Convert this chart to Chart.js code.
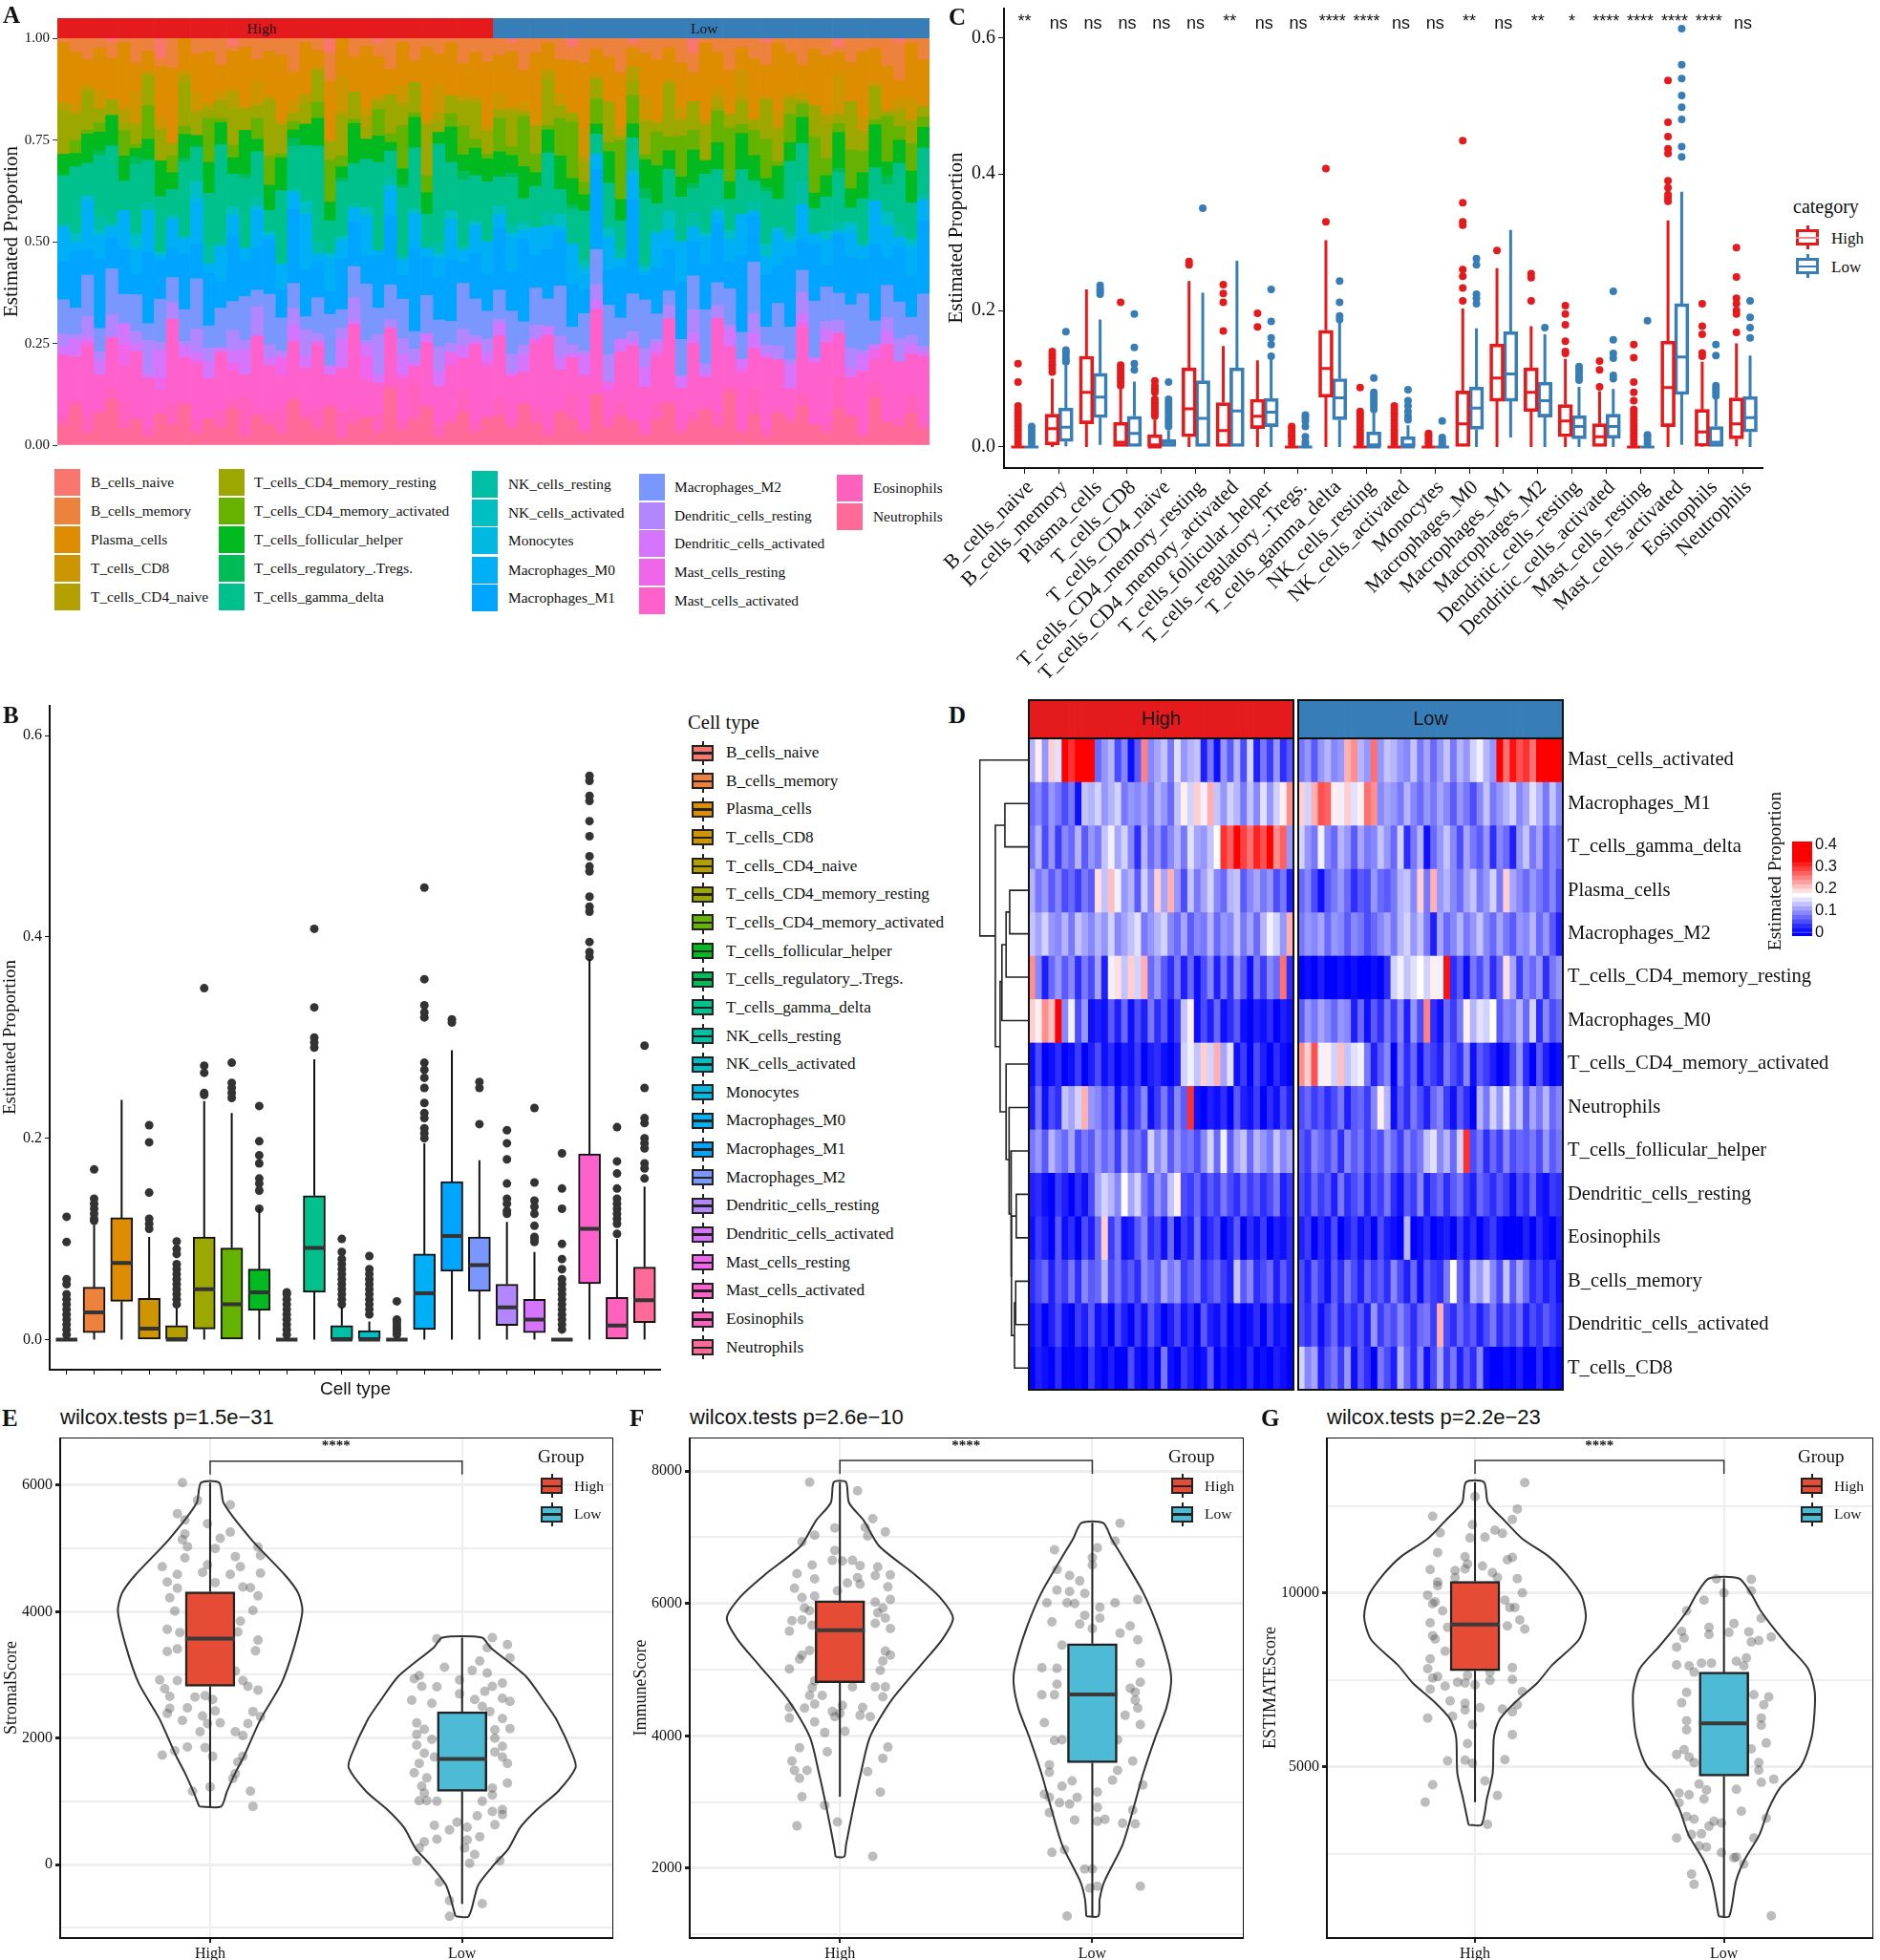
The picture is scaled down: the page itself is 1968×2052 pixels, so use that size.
<!DOCTYPE html>
<html>
<head>
<meta charset="utf-8">
<title>Immune infiltration panels</title>
<script src="https://cdn.jsdelivr.net/npm/chart.js@4"></script>
<style>
html, body { margin: 0; background: #fff; }
#page { position: relative; width: 1968px; height: 2052px; overflow: hidden; background: #fff; }
#page canvas { position: absolute; }
#page span { position: absolute; white-space: nowrap; color: #111; line-height: 1; }
#page div { position: absolute; box-sizing: border-box; }
</style>
</head>
<body>
<div id="page"></div>
<script>
const SERIF = '"Liberation Serif"';
const SANS = '"Liberation Sans"';
const RED = '#E41A1C', BLUE = '#377EB8';
const NPG_RED = '#E64B35', NPG_BLUE = '#4DBBD5';

const categories = ['B_cells_naive','B_cells_memory','Plasma_cells','T_cells_CD8','T_cells_CD4_naive','T_cells_CD4_memory_resting','T_cells_CD4_memory_activated','T_cells_follicular_helper','T_cells_regulatory_.Tregs.','T_cells_gamma_delta','NK_cells_resting','NK_cells_activated','Monocytes','Macrophages_M0','Macrophages_M1','Macrophages_M2','Dendritic_cells_resting','Dendritic_cells_activated','Mast_cells_resting','Mast_cells_activated','Eosinophils','Neutrophils'];
const palette = ['#F8766D','#EC823C','#DE8C00','#CD9600','#B49F00','#9CA700','#66B200','#00BA1F','#00BC56','#00C08B','#00BFA5','#00BFC4','#00B8E0','#00B0F6','#00A5FF','#7997FF','#B186FF','#D575FE','#F066EA','#FF61CC','#FF62BC','#FF6A98'];

// panel A, percent of each sample (every third sample or so)
const bCellsNaive = [0,0,0,0,1,0,0,0,5,0,0,0,0,0,2,0,0,0,0,0,0,0,3,0,0,0,1,0,0,0,0,0,0,0,0,0,0,1,0,0,0,0,2,0,0,0,0,1,0,0,0,0,3,0,0,0,0,0,1,0,0,0,0,0,2,0,0,0,0,1,0,0];
const bCellsMemory = [1,3,5,2,4,1,6,3,2,7,0,4,3,6,1,2,5,3,4,8,1,3,6,0,4,2,3,7,1,5,2,4,1,6,3,5,4,2,7,3,1,5,3,6,2,4,8,1,3,5,2,6,4,1,3,7,2,4,5,1,3,6,2,4,1,5,3,2,6,8,1,4];
const plasmaCells = [14,12,6,9,11,15,7,5,13,18,8,10,12,6,9,14,5,11,16,7,12,4,13,10,8,15,9,6,11,5,17,8,12,7,10,14,9,13,7,15,6,8,12,16,5,10,13,4,9,14,7,11,6,17,8,10,5,12,7,14,9,6,11,13,5,8,15,7,10,4,12,9];
const tCellsCD8 = [0,2,1,4,0,1,8,0,3,0,1,5,0,2,1,0,6,0,1,3,0,1,0,10,0,2,1,0,4,0,1,7,0,2,0,1,4,0,2,1,0,3,0,7,1,0,2,0,5,1,0,3,0,1,2,0,6,0,1,4,0,2,0,1,9,0,3,1,0,2,5,0];
const tCellsCD4Naive = [2,0,1,0,0,3,0,1,0,0,2,0,1,0,4,0,0,1,0,0,2,0,0,1,0,3,0,0,1,0,0,2,0,0,1,0,0,1,0,0,2,0,0,1,0,0,0,3,0,0,1,0,0,0,2,0,1,0,0,0,1,0,0,2,0,0,1,0,0,1,0,0];
const tCellsCD4Resting = [10,6,9,3,4,2,5,7,8,3,11,6,2,4,9,5,3,13,7,2,5,8,4,11,6,3,2,9,5,7,12,3,4,6,8,5,2,8,1,6,10,3,2,5,4,9,1,3,7,2,11,4,6,8,1,3,5,2,9,7,3,1,6,8,2,10,4,7,1,3,5,2];
const tCellsCD4Activated = [0,3,1,2,0,6,1,8,0,4,2,0,10,1,3,0,5,7,1,2,0,4,9,3,1,0,6,2,11,1,4,0,3,7,2,1,8,2,11,4,1,9,13,3,5,2,14,6,1,8,3,10,4,0,7,12,2,5,9,1,6,3,11,4,2,8,5,1,10,3,6,2];
const tCellsFollicular = [5,3,7,4,8,6,2,5,9,4,6,3,7,5,4,10,3,6,8,2,5,7,4,3,9,5,6,2,4,7,5,3,8,4,6,5,6,4,7,3,5,8,6,4,2,7,5,3,6,9,4,5,7,3,6,4,8,5,2,7,4,6,3,5,8,4,6,9,3,5,7,4];
const tCellsRegulatory = [0,0,0,1,0,0,2,0,0,0,1,0,0,0,0,1,0,0,0,2,0,0,0,1,0,0,0,0,1,0,0,0,0,2,0,0,0,1,0,0,0,0,1,0,0,0,0,0,2,0,0,0,1,0,0,0,0,0,1,0,0,0,0,0,1,0,0,0,2,0,0,0];
const tCellsGammaDelta = [11,15,8,13,20,7,17,10,14,6,19,9,12,22,8,16,11,5,18,10,13,24,7,15,9,12,20,6,17,14,8,25,11,16,10,13,7,11,5,9,13,6,8,12,4,10,7,3,14,6,9,11,5,13,8,7,10,4,12,6,15,9,5,8,11,3,10,7,6,13,8,9];
const nkCellsResting = [1,0,0,3,1,0,0,2,0,1,0,0,4,1,0,0,2,0,0,1,0,3,0,0,1,0,0,2,1,0,0,3,0,1,0,0,0,2,1,0,3,0,0,1,0,0,2,4,0,1,0,0,3,0,1,0,0,2,0,0,1,5,0,0,2,0,1,0,0,3,0,1];
const nkCellsActivated = [0,2,0,1,0,0,3,0,1,0,0,4,0,0,2,0,0,1,0,0,3,0,0,1,0,2,0,0,0,1,0,0,2,0,1,0,2,0,1,0,0,3,0,1,0,2,0,0,1,0,4,0,0,1,0,2,0,0,3,0,1,0,0,2,0,1,0,0,3,0,1,0];
const monocytes = [0,0,1,0,0,0,1,0,0,0,0,1,0,0,0,0,1,0,0,0,0,0,1,0,0,0,0,1,0,0,0,1,0,0,0,0,0,1,0,0,0,0,0,1,0,0,0,1,0,0,0,0,0,0,1,0,0,0,0,1,0,0,0,0,0,1,0,0,0,0,1,0];
const macrophagesM0 = [8,2,12,5,3,9,6,10,1,7,4,11,2,8,5,3,9,1,6,4,13,2,7,5,3,10,1,6,4,8,2,5,9,3,6,7,3,8,2,6,5,1,9,4,3,7,2,5,1,8,4,10,3,6,2,5,9,1,4,7,3,8,2,6,1,5,3,9,7,2,6,4];
const macrophagesM1 = [9,13,6,15,8,11,5,17,10,7,14,9,12,6,16,8,10,13,7,18,11,9,5,14,10,7,12,16,6,19,9,11,14,5,10,8,15,9,18,7,11,13,10,6,16,8,12,20,5,11,9,14,7,10,13,6,17,9,12,8,15,7,11,5,13,10,8,16,6,12,9,14];
const macrophagesM2 = [8,6,10,5,12,7,9,4,11,6,8,13,5,9,7,10,4,12,8,6,3,9,11,5,7,14,6,8,10,4,9,7,5,11,8,6,7,10,5,8,6,12,4,9,7,11,5,8,10,6,3,9,7,12,5,8,6,10,4,9,7,5,11,8,6,9,13,5,7,8,4,10];
const dendriticResting = [3,1,5,2,6,0,3,8,2,4,1,6,3,0,5,2,7,3,1,4,6,2,0,3,5,1,9,2,4,3,0,6,2,4,1,3,1,4,2,3,0,5,2,1,3,6,0,2,4,1,3,0,5,2,3,1,0,4,2,3,1,5,0,2,3,4,1,0,3,5,2,1];
const dendriticActivated = [2,4,1,3,0,5,2,1,7,0,3,2,4,1,3,6,0,2,1,4,3,0,2,8,1,3,2,0,5,1,2,4,0,3,1,2,3,1,4,0,2,3,1,5,2,0,3,1,4,2,0,3,2,1,0,4,2,3,1,0,5,2,1,3,0,2,4,1,3,0,2,1];
const mastResting = [0,0,1,0,0,5,0,0,3,0,0,1,0,0,2,0,0,0,4,0,0,1,0,0,0,6,0,0,1,0,0,0,3,0,0,1,0,0,0,1,0,0,0,0,0,2,0,0,0,1,0,0,0,0,0,0,1,0,0,0,0,1,0,0,0,0,0,2,0,0,0,0];
const mastActivated = [14,10,17,8,13,9,16,12,6,20,11,15,9,13,7,5,18,11,8,14,10,16,6,12,19,9,7,13,11,4,15,10,12,8,17,11,15,11,7,14,20,10,8,13,17,6,12,16,9,11,18,10,14,7,21,9,13,8,16,11,6,15,12,19,10,8,14,5,17,12,9,13];
const eosinophils = [2,1,4,0,3,6,1,2,0,5,1,3,0,4,2,9,1,3,6,0,2,5,1,7,3,0,4,1,2,8,0,3,1,5,2,0,4,1,0,3,2,0,6,1,0,2,3,0,1,4,0,1,2,0,3,1,0,5,2,0,1,3,0,2,7,0,1,3,0,2,4,1];
const neutrophils = [5,9,3,7,12,4,6,2,8,5,10,3,6,4,9,2,7,5,3,11,6,4,8,2,5,7,3,13,4,6,9,2,5,8,3,6,7,4,9,5,2,8,6,3,10,4,7,5,2,6,9,3,5,8,4,12,3,6,2,7,5,9,4,3,8,6,2,10,5,4,7,3];
const stackSeries = [bCellsNaive,bCellsMemory,plasmaCells,tCellsCD8,tCellsCD4Naive,tCellsCD4Resting,tCellsCD4Activated,tCellsFollicular,tCellsRegulatory,tCellsGammaDelta,nkCellsResting,nkCellsActivated,monocytes,macrophagesM0,macrophagesM1,macrophagesM2,dendriticResting,dendriticActivated,mastResting,mastActivated,eosinophils,neutrophils];
const stackTicks = [0,0.25,0.5,0.75,1];
const stackTickLabels = ['0.00','0.25','0.50','0.75','1.00'];
const highColumns = 36, lowColumns = 36;

// panel B
const boxQ1 = [0,.007,.038,0,0,.0105,0,.029,0,.047,0,0,0,.01,.068,.048,.014,.007,0,.0555,0,.017];
const boxMedian = [0,.027,.076,.011,0,.05,.035,.047,0,.091,0,0,0,.046,.103,.074,.032,.02,0,.11,.014,.039];
const boxQ3 = [0,.052,.121,.041,.014,.102,.091,.07,0,.143,.014,.009,0,.085,.157,.102,.055,.04,0,.1845,.042,.072];
const boxLow = [0,0,0,0,0,0,0,0,0,0,0,0,0,0,0,0,0,0,0,0,0,0];
const boxHigh = [0,.114,.238,.102,.031,.237,.225,.13,.002,.2785,.032,.018,.001,.195,.2875,.178,.117,.087,.001,.378,.1,.152];
const boxOutliers = [
  [.122,.097,.06,.055,.045,.04,.035,.03,.025,.02,.015,.01,.005],
  [.169,.14,.135,.13,.125,.12,.118],
  [],
  [.213,.196,.146,.12,.115,.11],
  [.0975,.09,.085,.075,.07,.065,.06,.055,.05,.045,.04,.035],
  [.349,.272,.265,.245,.243],
  [.275,.255,.25,.245,.24],
  [.232,.197,.183,.175,.16,.155,.148,.13],
  [.047,.045,.04,.035,.03,.025,.02,.015,.01,.005],
  [.408,.33,.3,.295,.29],
  [.1,.087,.08,.075,.07,.065,.06,.055,.05,.045,.04,.035],
  [.083,.07,.065,.06,.055,.05,.045,.04,.035,.03,.025],
  [.038,.02,.018,.015,.012,.01,.008,.005],
  [.449,.358,.332,.325,.32,.275,.268,.26,.25,.235,.225,.22,.21,.205,.2],
  [.318,.315],
  [.256,.25,.214],
  [.208,.195,.179,.155,.14,.135,.128,.125],
  [.23,.156,.138,.132,.125,.113,.102,.1,.097],
  [.185,.15,.13,.095,.08,.07,.06,.055,.05,.045,.04,.035,.03,.025,.02,.015,.01],
  [.56,.555,.54,.535,.515,.5,.48,.47,.465,.44,.43,.425,.395,.385,.38],
  [.211,.177,.165,.15,.14,.135,.13,.125,.12,.115,.105],
  [.292,.25,.22,.215,.2,.195,.19,.175,.17,.16]
];
const proportionTicks = [0,.2,.4,.6];
const proportionLabels = ['0.0','0.2','0.4','0.6'];

// panel C
const highQ1 = [0,.003,.034,0,0,.015,0,.027,0,.073,0,0,0,0,.067,.052,.015,0,0,.03,.001,.012];
const highMedian = [0,.027,.08,.007,0,.056,.024,.045,0,.115,0,0,0,.034,.101,.08,.038,.015,0,.087,.022,.034];
const highQ3 = [0,.048,.133,.036,.018,.116,.065,.07,0,.171,0,0,0,.082,.151,.116,.062,.034,0,.155,.055,.072];
const highLow = [0,0,0,0,0,0,0,0,0,0,0,0,0,0,0,0,0,0,0,0,0,.001];
const highUp = [0,.1,.231,.085,.04,.243,.148,.127,0,.303,0,0,0,.203,.262,.177,.129,.082,0,.332,.125,.152];
const highOutliers = [
  [.122,.095,.06,.055,.05,.045,.04,.035,.03,.025,.02,.015,.01,.005],[.14,.135,.13,.125,.12,.115,.11],[],
  [.212,.12,.115,.11,.105,.1,.095,.09],[.097,.09,.085,.08,.07,.065,.06,.055,.05,.045],[.272,.267],[.238,.225,.212,.17],[.196,.176],
  [.03,.027,.022,.018,.015,.01,.005],[.408,.33],[.087,.052,.048,.044,.04,.035,.03,.025,.02,.015,.01,.005],
  [.06,.055,.05,.045,.04,.035,.03,.025,.02,.015,.01,.005],[.02,.017,.014,.01,.007,.004],[.449,.358,.33,.325,.26,.25,.233,.214],[.288],[.254,.248,.214],
  [.207,.195,.179,.155,.14,.137],[.126,.113,.088],[.15,.131,.095,.08,.068,.055,.05,.045,.04,.035,.03,.025,.02,.015,.01,.005],
  [.537,.476,.455,.437,.43,.39,.38,.37,.365,.36],[.21,.177,.165,.138,.133],[.292,.249,.218,.21,.2,.195,.168]
];
const lowQ1 = [0,.008,.043,0,0,0,0,.03,0,.04,0,0,0,.026,.067,.044,.012,.013,0,.077,0,.022];
const lowMedian = [0,.029,.073,.02,.007,.042,.053,.051,0,.072,0,0,0,.057,.107,.068,.03,.03,0,.132,.007,.043];
const lowQ3 = [0,.057,.108,.045,.011,.097,.116,.071,0,.1,.022,.015,0,.088,.169,.095,.046,.048,0,.21,.03,.074];
const lowLow = [0,.001,.003,0,0,0,0,0,0,0,0,0,0,0,.014,0,0,0,0,.003,0,0];
const lowUp = [0,.12,.187,.096,.025,.226,.273,.13,0,.185,.05,.032,.002,.174,.318,.165,.088,.085,0,.374,.07,.134];
const lowOutliers = [
  [.03,.025,.02,.015,.01,.005],[.169,.142,.138,.133,.128,.125],[.237,.232,.228,.224],[.195,.146,.122,.113],
  [.095,.07,.065,.06,.055,.05,.045,.04,.035,.03],[.35],[],[.231,.184,.16,.15,.133],[.047,.043,.038,.03,.015,.008,.004],[.243,.212,.192,.187],
  [.101,.08,.075,.07,.065,.06,.055],[.084,.068,.06,.052,.045,.04],[.038,.014,.01,.007,.004],[.276,.267,.224,.218,.21],[],[.175],
  [.118,.113,.108,.103,.098],[.228,.157,.137,.13,.105,.1],[.185,.018,.015,.01,.005],[.613,.56,.54,.515,.498,.48,.44,.425],[.15,.134,.09,.085,.08,.075],[.214,.19,.175,.16]
];
const significance = ['**','ns','ns','ns','ns','ns','**','ns','ns','****','****','ns','ns','**','ns','**','*','****','****','****','****','ns'];

// panel D, cell values in hundredths
const heatRows = ['Mast_cells_activated','Macrophages_M1','T_cells_gamma_delta','Plasma_cells','Macrophages_M2','T_cells_CD4_memory_resting','Macrophages_M0','T_cells_CD4_memory_activated','Neutrophils','T_cells_follicular_helper','Dendritic_cells_resting','Eosinophils','B_cells_memory','Dendritic_cells_activated','T_cells_CD8'];
const heatHigh = [
  [12,18,10,20,15,38,30,40,40,45,7,10,12,5,9,1,6,25,9,11,13,8,15,10,12,13,2,8,1,10,6,12,5,14,2,8,4,10,3,6],
  [7,9,6,10,8,5,8,1,13,12,14,10,12,14,8,10,9,11,8,12,10,7,13,18,14,20,16,22,13,10,14,12,8,13,9,15,10,14,18,24],
  [8,12,5,10,4,9,7,12,6,10,8,13,16,11,14,9,3,12,7,10,6,9,12,8,15,11,10,13,17,30,27,33,29,26,31,28,35,24,27,10],
  [12,8,10,6,9,5,7,4,8,6,19,13,21,16,10,12,6,14,9,20,11,22,10,5,13,8,11,14,9,7,12,13,6,9,11,8,10,5,8,2],
  [13,11,14,10,9,12,8,13,11,9,12,10,14,9,11,13,15,8,10,12,14,9,7,11,6,9,8,12,7,10,9,13,8,11,7,12,16,14,10,22],
  [24,9,2,7,10,6,9,3,8,5,11,2,16,19,13,20,14,22,7,10,6,3,8,2,7,1,5,9,2,8,3,10,6,1,8,4,9,7,26,3],
  [20,18,24,21,38,9,16,5,10,1,2,1,6,2,7,1,5,2,8,3,6,1,4,13,18,1,5,2,7,1,3,6,1,0,2,1,3,0,2,1],
  [1,5,0,1,3,0,1,4,0,2,5,1,3,0,2,1,4,0,2,3,1,0,2,14,16,13,20,14,22,11,15,1,4,0,5,2,0,3,1,0],
  [2,8,1,5,3,13,11,14,22,10,9,6,8,1,7,2,5,9,1,4,8,3,9,6,30,1,0,2,1,3,0,6,2,1,4,0,3,1,5,2],
  [8,10,6,12,9,7,11,5,8,6,10,7,9,4,11,6,8,5,14,9,12,6,10,7,8,5,9,14,7,16,6,11,13,7,12,10,8,13,9,11],
  [2,3,1,0,4,2,0,3,1,5,11,14,12,9,17,11,14,8,5,10,7,13,18,5,4,7,3,6,4,8,5,3,7,4,6,3,5,8,2,4],
  [1,4,2,0,6,1,3,0,5,2,7,20,4,8,1,2,6,9,3,5,1,7,0,4,2,8,1,3,5,0,2,6,0,3,1,4,0,2,1,3],
  [3,5,7,2,6,4,8,3,9,6,7,12,5,8,4,6,3,9,7,5,11,8,10,4,6,8,3,5,7,4,2,13,6,9,3,5,7,2,6,3],
  [1,3,0,2,5,1,0,4,2,6,1,3,0,5,2,0,4,1,6,3,0,2,5,1,3,0,6,2,1,4,0,2,0,1,3,0,4,1,2,0],
  [0,2,1,0,3,0,0,1,0,4,1,0,2,0,0,5,1,0,3,0,8,1,0,4,2,0,1,6,0,2,0,1,0,3,0,1,0,2,1,0]
];
const heatLow = [
  [8,10,6,10,12,9,10,22,24,12,10,26,10,13,12,10,9,13,8,11,7,10,13,8,12,10,14,16,12,10,40,26,32,28,30,26,40,42,45,40],
  [20,14,22,28,27,18,16,20,15,18,26,24,9,11,10,8,12,9,7,10,8,11,9,6,10,8,5,9,13,8,10,12,14,9,11,15,12,8,13,9],
  [14,10,8,16,9,7,12,10,6,11,8,9,13,10,7,14,3,8,12,1,7,10,13,9,5,11,8,6,10,3,9,7,2,10,13,8,11,6,9,7],
  [7,9,5,1,6,8,10,7,3,6,5,10,7,6,8,12,13,9,20,8,22,10,12,9,7,11,13,8,10,14,8,20,11,9,7,10,8,6,9,5],
  [8,10,9,11,7,10,9,6,9,8,5,7,9,11,8,12,14,10,13,8,2,11,7,9,12,8,10,13,9,7,11,8,6,10,9,12,7,10,6,2],
  [0,1,0,2,0,0,1,0,1,0,0,1,0,3,14,16,13,15,17,14,18,16,32,3,6,1,8,5,9,3,7,19,11,4,9,7,10,3,8,10],
  [6,10,8,11,9,7,10,9,2,7,1,6,3,8,4,9,2,10,5,25,3,1,7,4,8,18,12,15,14,17,6,9,8,12,7,14,3,9,5,7],
  [24,20,28,16,18,14,21,13,15,16,8,2,6,9,0,8,3,7,1,6,4,2,8,5,3,9,1,6,4,2,0,1,5,10,3,0,6,2,0,1],
  [5,7,4,6,3,5,8,2,6,7,4,9,18,12,1,6,3,8,5,2,7,9,4,1,6,3,0,12,8,14,10,16,9,13,6,11,8,12,7,9],
  [6,4,9,7,5,8,3,9,6,8,4,7,5,10,7,4,9,6,8,13,15,9,12,7,14,30,5,8,3,7,4,9,5,7,6,8,5,10,6,8],
  [5,3,7,4,6,2,8,3,5,7,2,6,4,8,3,1,6,4,9,2,5,7,3,6,8,4,2,7,5,3,6,4,1,5,3,7,2,1,4,3],
  [2,4,0,3,1,5,0,2,4,1,3,0,5,2,1,0,12,0,1,3,0,1,2,0,4,1,3,0,2,4,1,0,0,0,2,0,3,1,0,2],
  [5,2,7,4,1,6,3,8,5,2,7,4,6,3,9,5,2,7,1,6,4,3,8,17,7,3,12,10,14,9,5,13,6,11,7,3,5,2,4,1],
  [5,3,6,1,4,7,2,5,3,6,2,10,4,7,5,9,6,3,7,8,4,22,5,3,7,4,6,2,5,8,3,6,4,7,2,5,3,6,4,2],
  [14,9,11,2,6,8,4,10,1,6,3,0,8,5,2,12,7,3,9,1,5,11,4,8,2,6,3,9,1,0,0,1,0,2,0,0,3,0,1,0]
];
const colorbarSteps = [0,2,4,6,8,10,12,14,16,18,20,22,24,26,28,30,32,34,36,38,40];
const colorbarTicks = [0,.1,.2,.3,.4];
const colorbarLabels = ['0','0.1','0.2','0.3','0.4'];
// dendrogram merges: height, then each branch's row and its own height
const dendroHeight = [40,32,38,45,21,22,24,29,30,33,38,48,56,82];
const dendroRowA = [1.5,3.5,4,4.75,10.5,12.5,13,11,9.5,8.5,7.5,5.6,2,.5];
const dendroFromA = [0,0,32,38,0,0,22,21,0,0,0,45,40,0];
const dendroRowB = [2.5,4.5,5.5,6.5,11.5,13.5,14.5,13.75,12.4,10.95,9.7,8.6,7.1,4.55];
const dendroFromB = [0,0,0,0,0,0,0,24,29,30,33,38,48,56];

// panels E, F, G
const stromalHighViolinY = [917,1157,1450,1727,2296,2866,3436,4006,4290,4575,5145,5715,6040];
const stromalHighViolinW = [.043,.067,.1,.136,.2,.283,.333,.366,.35,.298,.163,.054,.036];
const stromalLowViolinY = [-820,-325,17,245,587,872,1157,1527,1727,2296,2581,2980,3436,3590];
const stromalLowViolinW = [.026,.064,.131,.183,.231,.298,.381,.45,.44,.374,.326,.252,.112,.079];
const stromalBoxQ1 = [2820,1157], stromalBoxMedian = [3573,1670], stromalBoxQ3 = [4313,2416], stromalWhiskerLow = [917,-621], stromalWhiskerHigh = [6040,3590];
const stromalHighJitter = [-.11,-.05,.08,-.13,-.1,-.01,.08,-.1,.04,-.11,-.09,.19,.02,.2,.1,-.1,-.01,-.19,.12,-.13,-.03,.2,.08,-.17,.02,.13,.16,-.13,-.16,.19,-.14,.17,.12,-.17,-.12,.11,.19,.18,-.17,-.13,.1,-.2,-.13,.13,.15,-.18,.19,-.16,-.02,.01,-.06,-.09,-.16,.02,.17,-.17,-.03,.2,-.11,-.01,.04,.15,-.04,.1,.13,-.09,-.02,-.14,-.19,.01,.13,.11,.1,.09,0,-.07,.16,.17];
const stromalHighScore = [6040,5760,5690,5550,5450,5390,5260,5230,5160,5140,5030,5020,5000,4890,4870,4850,4740,4710,4710,4590,4620,4610,4590,4470,4460,4390,4380,4370,4220,4250,4010,4020,3850,3720,3670,3680,3550,3380,3370,3410,3060,2920,2910,2910,2820,2780,2760,2660,2670,2610,2650,2480,2470,2430,2420,2390,2350,2340,2280,2230,2240,2230,2100,2100,2040,1860,1850,1800,1730,1710,1710,1620,1440,1360,1230,1160,1160,920];
const stromalLowJitter = [.12,.18,-.1,.1,.19,.07,-.07,-.17,-.19,.04,.1,-.01,.16,.12,-.16,-.1,.09,-.01,-.2,.05,.16,.19,-.12,.08,.11,.16,-.18,.19,-.15,.13,-.18,-.12,.13,.16,-.18,-.15,.13,-.11,.16,-.17,.18,-.19,-.14,-.16,.18,.12,-.15,.12,-.17,-.14,-.1,.08,.16,.12,.16,.06,.13,-.11,-.02,.02,-.05,-.1,-.15,.07,.02,-.17,.01,.05,-.18,.15,.03,-.09,-.05,.08,-.05];
const stromalLowScore = [3590,3480,3570,3430,3270,3220,3120,2990,2940,3070,3030,2920,2870,2820,2820,2810,2740,2700,2600,2610,2630,2580,2550,2500,2420,2310,2240,2150,2140,2130,2060,1980,2000,1870,1890,1760,1780,1700,1700,1600,1600,1450,1370,1240,1290,1210,1130,1100,1010,1010,1000,1000,870,840,790,770,630,620,670,590,550,400,360,440,390,260,260,160,60,60,20,-280,-570,-620,-820];

const immuneHighViolinY = [2174,2348,2893,3438,3982,4526,5071,5452,5779,6105,6432,6868,7249,7521,7832];
const immuneHighViolinW = [.017,.024,.052,.083,.119,.202,.321,.405,.448,.393,.298,.155,.095,.036,.024];
const immuneLowViolinY = [1276,1532,1804,2348,2893,3438,3982,4418,4799,5071,5615,6160,6705,6977,7216];
const immuneLowViolinW = [.024,.029,.048,.119,.162,.202,.25,.293,.312,.305,.262,.202,.119,.076,.043];
const immuneBoxQ1 = [4804,3595], immuneBoxMedian = [5594,4624], immuneBoxQ3 = [6040,5392], immuneWhiskerLow = [3083,1276], immuneWhiskerHigh = [7832,7216];
const immuneHighJitter = [-.12,.07,.13,-.02,.1,.18,-.1,.11,-.15,-.02,-.03,.01,.05,-.11,.08,.15,-.17,.2,.14,.07,-.1,.03,.08,.19,-.18,-.01,-.1,-.15,.2,.14,-.14,.17,-.12,.15,-.15,.18,-.19,.14,-.11,.2,-.2,-.12,-.15,.18,.2,-.16,.17,-.2,.16,-.1,.18,-.11,.14,.05,-.12,-.07,.17,-.1,.01,-.14,.09,-.2,-.03,0,.08,-.02,.12,-.2,-.1,.02,-.06,-.16,.19,-.05,.17,-.19,-.18,-.13,.11,-.16,.16,-.15,-.06,-.01,-.17,.13];
const immuneHighScore = [7830,7700,7280,7140,7150,7080,7030,7020,6930,6800,6650,6640,6650,6580,6570,6550,6450,6430,6420,6390,6370,6310,6290,6250,6230,6190,6110,6090,6060,6020,5930,5930,5890,5860,5750,5780,5740,5700,5670,5620,5580,5290,5220,5280,5220,5160,5130,5010,4990,4830,4740,4730,4740,4740,4610,4610,4590,4480,4460,4420,4430,4430,4370,4340,4310,4290,4290,4270,4210,4070,4050,3820,3830,3760,3660,3620,3480,3480,3460,3360,3150,3080,2950,2700,2640,2180];
const immuneLowJitter = [.11,.09,-.15,.02,0,-.14,0,-.09,-.05,-.14,-.09,-.03,.18,-.18,-.1,-.07,.09,.03,-.03,.03,-.16,-.05,.15,0,.11,.18,-.12,.19,-.2,-.14,.19,-.14,.15,.17,-.2,-.15,.17,.18,.13,-.19,.19,-.15,-.12,.1,.16,-.17,.1,-.17,.08,-.08,-.12,.2,.02,-.19,-.06,-.17,-.13,-.09,.02,-.17,.16,-.07,.02,.05,.12,.17,-.11,-.16,-.03,0,.02,.19,-.01,-.1];
const immuneLowScore = [7210,6940,6810,6840,6690,6510,6580,6420,6340,6200,6180,6150,6060,6010,6010,6000,6010,5940,5820,5780,5720,5690,5660,5620,5550,5450,5370,5100,5030,5020,4810,4780,4720,4660,4620,4620,4540,4420,4310,4200,4170,3930,3940,3940,3620,3560,3480,3450,3330,3320,3240,3260,3150,3120,3070,3070,2990,2970,2920,2840,2880,2730,2710,2740,2680,2670,2280,2240,1990,1990,1730,1730,1700,1280];

const estimateHighViolinY = [3330,4087,4813,5851,6369,6888,7407,7925,8651,9274,9896,10519,11037,11556,12074,12593,13184];
const estimateHighViolinW = [.026,.048,.071,.076,.1,.167,.25,.31,.417,.445,.429,.369,.298,.19,.119,.052,.036];
const estimateLowViolinY = [695,1701,2324,3050,3776,4398,5021,5851,6577,7199,7822,8444,8962,9481,9999,10415];
const estimateLowViolinW = [.021,.048,.083,.143,.179,.226,.31,.352,.364,.364,.338,.262,.202,.148,.107,.06];
const estimateBoxQ1 = [7759,4730], estimateBoxMedian = [9087,6245], estimateBoxQ3 = [10332,7718], estimateWhiskerLow = [3983,695], estimateWhiskerHigh = [13184,10415];
const estimateHighJitter = [.2,0,.17,-.17,.15,-.01,-.14,.08,.11,-.02,.04,-.15,-.04,.15,.13,-.03,.03,-.18,-.04,-.08,.07,-.08,.17,.09,-.15,-.15,.19,-.19,-.16,.12,-.17,.14,-.13,.16,.18,-.18,.13,.2,-.11,-.17,-.16,-.12,-.18,-.19,.15,-.03,.06,-.15,-.17,-.07,-.04,.06,.15,-.12,0,-.18,.19,-.1,-.04,.02,.17,-.04,.11,-.09,-.19,.15,-.01,.15,-.03,-.11,-.04,.12,-.01,.04,-.17,.09,-.2,.05];
const estimateHighScore = [13170,12770,12410,12200,12110,11960,11730,11800,11710,11580,11600,11160,11040,11020,10950,10830,10770,10670,10690,10640,10580,10440,10410,10440,10310,10210,10000,9930,9740,9790,9690,9580,9480,9580,9220,9140,9050,8960,9010,8770,8670,8320,8100,7820,7850,7630,7720,7590,7550,7430,7410,7480,7510,7320,7350,7230,7160,6890,6820,6700,6780,6630,6660,6450,6400,6580,6210,5920,5660,5170,5190,5200,5100,4590,4480,4170,3980,3340];
const estimateLowJitter = [-.03,.11,.11,0,-.08,-.15,.15,.04,-.06,-.17,.1,.02,-.06,.19,-.16,.14,.11,-.19,.05,.09,-.05,-.19,-.14,-.09,-.12,.08,-.15,.18,.12,-.17,.16,-.15,.15,.15,-.15,.17,.11,-.19,-.16,.14,-.14,-.12,.14,.2,.15,-.1,.05,-.07,-.18,-.14,-.18,-.08,.07,-.15,.17,-.12,-.04,-.01,-.06,-.13,-.09,-.19,.12,-.1,-.07,-.01,.04,.05,.08,-.13,-.12,.19];
const estimateLowScore = [10400,10390,10060,10000,9790,9480,9270,9120,9010,8890,8880,8860,8800,8730,8700,8630,8590,8440,8030,8130,7980,7930,7900,7980,7720,7900,7140,7010,7070,6840,6780,6320,6400,6190,6060,5680,5510,5350,5490,5120,5280,5120,4900,4640,4550,4500,4350,4330,4240,4190,3960,4070,3720,3570,3520,3490,3430,3380,3290,3050,3070,2950,2950,2720,2690,2530,2380,2400,2200,1910,1620,710];

const groupTicks = [1,2];
const groupLabels = ['High','Low'];

Chart.defaults.font.family = SERIF;
Chart.defaults.color = '#111';
Chart.defaults.animation = false;
Chart.defaults.responsive = false;
Chart.defaults.plugins.legend.display = false;
Chart.defaults.plugins.tooltip.enabled = false;

// Text labels drawn at data positions, plus an optional frame round the plot
Chart.register({
  id: 'notes',
  afterDatasetsDraw(chart, args, opts) {
    const { ctx, scales, chartArea } = chart;
    ctx.save();
    (opts.items || []).forEach(n => {
      ctx.font = n.font;
      ctx.fillStyle = '#111';
      ctx.textAlign = 'center';
      ctx.textBaseline = 'middle';
      ctx.fillText(n.text, scales.x.getPixelForValue(n.x), scales.y.getPixelForValue(n.y));
    });
    if (opts.frame) {
      ctx.strokeStyle = '#111';
      ctx.lineWidth = opts.frame;
      ctx.strokeRect(chartArea.left, chartArea.top, chartArea.width, chartArea.height);
      (opts.rules || []).forEach(v => {
        const y = scales.y.getPixelForValue(v);
        ctx.beginPath();
        ctx.moveTo(chartArea.left, y);
        ctx.lineTo(chartArea.right, y);
        ctx.stroke();
      });
    }
    ctx.restore();
  }
});

const page = document.getElementById('page');

function addText(str, x, y, o = {}) {
  const el = document.createElement('span');
  el.textContent = str;
  el.style.left = x + 'px';
  el.style.top = y + 'px';
  el.style.fontFamily = o.family || SERIF;
  el.style.fontSize = (o.size || 16) + 'px';
  if (o.bold) el.style.fontWeight = 'bold';
  el.style.transform = o.rot ? 'translate(-50%,-50%) rotate(' + o.rot + 'deg)' : 'translateY(-50%)';
  page.appendChild(el);
}

function addBlock(x, y, w, h, color, border) {
  const el = document.createElement('div');
  el.style.cssText = 'left:' + x + 'px;top:' + y + 'px;width:' + w + 'px;height:' + h + 'px;background:' + color + ';' + (border || '');
  page.appendChild(el);
}

function addKey(x, y, w, h, fill, stroke, lw, medianColor) {
  addBlock(x + w / 2 - lw / 2, y - h / 2 - 4, lw, h + 8, stroke);
  addBlock(x, y - h / 2, w, h, fill, 'border:' + lw + 'px solid ' + stroke + ';');
  addBlock(x, y - 1, w, 2.5, medianColor);
}

// plot = pixel box of the plot area on the page, m = margins kept for the axes
function addChart(plot, m, config) {
  const c = document.createElement('canvas');
  const w = plot.r - plot.l + m.l + m.r, h = plot.b - plot.t + m.t + m.b;
  c.width = w;
  c.height = h;
  c.style.left = (plot.l - m.l) + 'px';
  c.style.top = (plot.t - m.t) + 'px';
  page.appendChild(c);
  const sc = config.options.scales;
  const yRight = sc.y.position === 'right';
  const noPadding = s => { s.paddingTop = 0; s.paddingBottom = 0; s.paddingLeft = 0; s.paddingRight = 0; };
  if (sc.y.display !== false) sc.y.afterFit = s => { s.width = yRight ? m.r : m.l; noPadding(s); };
  if (sc.x.display !== false) sc.x.afterFit = s => { s.height = m.b; noPadding(s); };
  config.options.layout = {
    autoPadding: false,
    padding: {
      top: m.t,
      left: (sc.y.display === false || yRight) ? m.l : 0,
      right: (sc.y.display !== false && yRight) ? 0 : m.r,
      bottom: sc.x.display === false ? m.b : 0
    }
  };
  return new Chart(c, config);
}

const useTicks = values => s => { s.ticks = values.map(v => ({ value: v })); };

function whiskerPoints(xs, q1, q3, lo, hi) {
  const out = [];
  xs.forEach((x, i) => {
    out.push({ x, y: lo[i] }, { x, y: q1[i] }, { x, y: null }, { x, y: q3[i] }, { x, y: hi[i] }, { x, y: null });
  });
  return out;
}
function medianPoints(xs, med, half) {
  const out = [];
  xs.forEach((x, i) => { out.push({ x: x - half, y: med[i] }, { x: x + half, y: med[i] }, { x, y: null }); });
  return out;
}
function outlierPoints(xs, lists) {
  const out = [];
  xs.forEach((x, i) => lists[i].forEach(y => out.push({ x, y })));
  return out;
}
function violinPoints(center, ys, ws) {
  const left = ys.map((y, i) => ({ x: center - ws[i], y }));
  const right = ys.map((y, i) => ({ x: center + ws[i], y })).reverse();
  return [...left, ...right, left[0]];
}
const lineSet = (data, color, width, order, extra) => Object.assign({ type: 'scatter', showLine: true, data, borderColor: color, borderWidth: width, pointRadius: 0, order }, extra);
const dotSet = (data, color, radius, order) => ({ type: 'scatter', data, backgroundColor: color, borderWidth: 0, pointRadius: radius, order });
const boxSet = (xs, q1, q3, fill, stroke, lw, thick, order) => ({
  type: 'bar', grouped: false, barThickness: thick, data: xs.map((x, i) => ({ x, y: [q1[i], q3[i]] })),
  backgroundColor: fill, borderColor: stroke, borderWidth: lw, borderSkipped: false, order
});

// ---- Panel A
const stackLabels = stackSeries[0].map((v, i) => 'S' + (i + 1));
const stackTotals = stackLabels.map((s, i) => stackSeries.reduce((sum, series) => sum + series[i], 0));
const stackSets = stackSeries.map((series, k) => ({
  label: categories[k], data: series.map((v, i) => v / stackTotals[i]), backgroundColor: palette[k], order: 1
})).reverse();
stackSets.push({
  label: 'Group', data: stackLabels.map(() => 0.0505),
  backgroundColor: stackLabels.map((s, i) => i < highColumns ? RED : BLUE), order: 1
});
addChart({ l: 60, r: 973, t: 19, b: 466.5 }, { l: 60, t: 0, r: 0, b: 12 }, {
  type: 'bar',
  data: { labels: stackLabels, datasets: stackSets },
  options: {
    datasets: { bar: { barPercentage: 1, categoryPercentage: 1, borderWidth: 0 } },
    scales: {
      x: { display: false, stacked: true },
      y: {
        stacked: true, min: 0, max: 1.0505, afterBuildTicks: useTicks(stackTicks),
        ticks: { font: { size: 15 }, color: '#111', padding: 3, autoSkip: false, callback: v => stackTickLabels[stackTicks.indexOf(v)] },
        grid: { drawOnChartArea: false, tickLength: 5, tickColor: '#333' }, border: { display: false },
        title: { display: true, text: 'Estimated Proportion', font: { size: 21 }, padding: 0 }
      }
    },
    plugins: { notes: { items: [
      { text: 'High', x: 16.4, y: 1.022, font: '15.5px ' + SERIF },
      { text: 'Low', x: 52.9, y: 1.022, font: '15.5px ' + SERIF }
    ] } }
  }
});
const legendA = [
  { swatch: 57, text: 95, rows: [505,535,565,595,625], from: 0 },
  { swatch: 228.5, text: 266, rows: [505,535,565,595,625], from: 5 },
  { swatch: 494, text: 532, rows: [507,537,566,597,626], from: 10 },
  { swatch: 668.5, text: 706, rows: [510,540,569,599,629], from: 15 },
  { swatch: 876, text: 914, rows: [511,541], from: 20 }
];
legendA.forEach(col => col.rows.forEach((y, i) => {
  addBlock(col.swatch, y - 14, 27, 28, palette[col.from + i]);
  addText(categories[col.from + i], col.text, y, { size: 15.4 });
}));

// ---- Panel B
const slots = categories.map((c, i) => i + 1);
addChart({ l: 52, r: 692, t: 738, b: 1434 }, { l: 52, t: 0, r: 0, b: 32 }, {
  type: 'scatter',
  data: { datasets: [
    lineSet(medianPoints(slots, boxMedian, .39), '#333', 4, 1),
    boxSet(slots, boxQ1, boxQ3, palette, '#111', 2, 23, 2),
    lineSet(whiskerPoints(slots, boxQ1, boxQ3, boxLow, boxHigh), '#111', 2, 3),
    dotSet(outlierPoints(slots, boxOutliers), '#333', 4.5, 4)
  ] },
  options: {
    scales: {
      x: {
        type: 'linear', offset: false, min: .385, max: 22.6, afterBuildTicks: useTicks(slots),
        ticks: { autoSkip: false, callback: () => '' },
        grid: { offset: false, drawOnChartArea: false, tickLength: 5, tickColor: '#111' }, border: { color: '#111', width: 2 },
        title: { display: true, text: 'Cell type', font: { family: SANS, size: 19 }, padding: 0 }
      },
      y: {
        min: -.0299, max: .6304, afterBuildTicks: useTicks(proportionTicks),
        ticks: { font: { size: 16 }, color: '#111', padding: 3, autoSkip: false, callback: v => proportionLabels[proportionTicks.indexOf(v)] },
        grid: { drawOnChartArea: false, tickLength: 5, tickColor: '#111' }, border: { color: '#111', width: 2 },
        title: { display: true, text: 'Estimated Proportion', font: { size: 19 }, padding: 0 }
      }
    }
  }
});
addText('Cell type', 720, 756, { size: 20.6 });
categories.forEach((c, i) => {
  const y = 788 + 29.65 * i;
  addKey(724, y, 23, 17, palette[i], '#222', 2, '#222');
  addText(c, 760, y, { size: 17.2 });
});

// ---- Panel C
const slotsHigh = slots.map(x => x - .19), slotsLow = slots.map(x => x + .21);
addChart({ l: 1051, r: 1846, t: 8, b: 490 }, { l: 80, t: 0, r: 0, b: 220 }, {
  type: 'scatter',
  data: { datasets: [
    lineSet(medianPoints(slotsHigh, highMedian, .2), RED, 3, 1),
    lineSet(medianPoints(slotsLow, lowMedian, .2), BLUE, 3, 1),
    boxSet(slotsHigh, highQ1, highQ3, 'rgba(255,255,255,0)', RED, 3, 15, 2),
    boxSet(slotsLow, lowQ1, lowQ3, 'rgba(255,255,255,0)', BLUE, 3, 15, 2),
    lineSet(whiskerPoints(slotsHigh, highQ1, highQ3, highLow, highUp), RED, 3, 3),
    lineSet(whiskerPoints(slotsLow, lowQ1, lowQ3, lowLow, lowUp), BLUE, 3, 3),
    dotSet(outlierPoints(slotsHigh, highOutliers), RED, 4, 4),
    dotSet(outlierPoints(slotsLow, lowOutliers), BLUE, 4, 4)
  ] },
  options: {
    scales: {
      x: {
        type: 'linear', offset: false, min: .4, max: 22.6, afterBuildTicks: useTicks(slots),
        ticks: { font: { size: 21.5 }, color: '#111', autoSkip: false, minRotation: 45, maxRotation: 45, padding: 2, labelOffset: 6, callback: v => categories[v - 1] },
        grid: { offset: false, drawOnChartArea: false, tickLength: 6, tickColor: '#111' }, border: { color: '#111', width: 2 }
      },
      y: {
        min: -.0308, max: .6438, afterBuildTicks: useTicks(proportionTicks),
        ticks: { font: { size: 20 }, color: '#111', padding: 3, autoSkip: false, callback: v => proportionLabels[proportionTicks.indexOf(v)] },
        grid: { drawOnChartArea: false, tickLength: 6, tickColor: '#111' }, border: { color: '#111', width: 2 },
        title: { display: true, text: 'Estimated Proportion', font: { size: 21 }, padding: { top: 18, bottom: 0 } }
      }
    },
    plugins: { notes: { items: significance.map((s, i) => ({ text: s, x: i + 1, y: s === 'ns' ? .62 : .623, font: '18px ' + SANS })) } }
  }
});
addText('category', 1877, 216, { size: 20 });
addKey(1880, 248.5, 24, 17, '#fff', RED, 3, '#ee8a8b');
addKey(1880, 278.5, 24, 17, '#fff', BLUE, 3, BLUE);
addText('High', 1917, 249, { size: 17 });
addText('Low', 1917, 279, { size: 17 });

// ---- Panel D
const heatStops = [[0,0,0,255],[17,255,255,255],[33,255,0,0]];
function heatColor(v) {
  const t = Math.min(v, 33);
  const [a, b] = t <= 17 ? [heatStops[0], heatStops[1]] : [heatStops[1], heatStops[2]];
  const f = (t - a[0]) / (b[0] - a[0]);
  return 'rgb(' + [1,2,3].map(k => Math.round(a[k] + (b[k] - a[k]) * f)).join(',') + ')';
}
const heatStrip = -.88;
function heatConfig(rows, stripColor, stripText, axis) {
  const labels = rows[0].map((v, i) => 'C' + i);
  const sets = rows.map((row, r) => ({
    data: row.map(() => [r, r + 1]), backgroundColor: row.map(heatColor)
  }));
  sets.push({ data: rows[0].map(() => [heatStrip, 0]), backgroundColor: stripColor });
  return {
    type: 'bar',
    data: { labels, datasets: sets },
    options: {
      datasets: { bar: { grouped: false, barPercentage: 1, categoryPercentage: 1, borderWidth: 0 } },
      scales: { x: { display: false }, y: axis },
      plugins: { notes: { frame: 2, rules: [0], items: [{ text: stripText, x: 19.5, y: heatStrip / 2, font: '20px ' + SANS }] } }
    }
  };
}
addChart({ l: 1077, r: 1354, t: 733, b: 1455 }, { l: 2, t: 2, r: 2, b: 2 }, heatConfig(heatHigh, RED, 'High', { display: false, reverse: true, min: heatStrip, max: 15 }));
const rowTicks = heatRows.map((r, i) => i + .5);
addChart({ l: 1359, r: 1636, t: 733, b: 1455 }, { l: 2, t: 2, r: 330, b: 2 }, heatConfig(heatLow, BLUE, 'Low', {
  position: 'right', reverse: true, min: heatStrip, max: 15, afterBuildTicks: useTicks(rowTicks),
  ticks: { font: { size: 20.6 }, color: '#111', padding: 5, autoSkip: false, callback: v => heatRows[rowTicks.indexOf(v)] },
  grid: { display: false, drawTicks: false }, border: { display: false }
}));
// dendrogram
const dendroSets = dendroHeight.map((h, i) => lineSet([
  { x: dendroFromA[i], y: dendroRowA[i] }, { x: h, y: dendroRowA[i] }, { x: h, y: dendroRowB[i] }, { x: dendroFromB[i], y: dendroRowB[i] }
], '#222', 1.6, 1));
addChart({ l: 1025, r: 1077, t: 773, b: 1455 }, { l: 2, t: 0, r: 0, b: 0 }, {
  type: 'scatter',
  data: { datasets: dendroSets },
  options: { scales: { x: { display: false, reverse: true, min: 0, max: 83 }, y: { display: false, reverse: true, min: 0, max: 15 } } }
});
// colour bar
addChart({ l: 1876, r: 1897, t: 881, b: 980 }, { l: 0, t: 10, r: 40, b: 10 }, {
  type: 'scatter',
  data: { datasets: [{
    type: 'bar', grouped: false, barThickness: 21,
    data: colorbarSteps.slice(0, -1).map((v, i) => ({ x: 0, y: [v / 100, colorbarSteps[i + 1] / 100] })),
    backgroundColor: colorbarSteps.slice(0, -1).map(v => heatColor(v + 1)), borderWidth: 0
  }, {
    type: 'bar', grouped: false, barThickness: 21, data: [{ x: 0, y: [-.017, 0] }], backgroundColor: '#0000ff', borderWidth: 0
  }, {
    type: 'bar', grouped: false, barThickness: 21, data: [{ x: 0, y: [.4, .413] }], backgroundColor: '#ff0000', borderWidth: 0
  }] },
  options: {
    scales: {
      x: { display: false, type: 'linear', offset: false, min: -1, max: 1 },
      y: {
        position: 'right', min: -.017, max: .413, afterBuildTicks: useTicks(colorbarTicks),
        ticks: { font: { family: SANS, size: 16.5 }, color: '#111', padding: 2, autoSkip: false, callback: v => colorbarLabels[colorbarTicks.indexOf(v)] },
        grid: { drawOnChartArea: false, tickLength: 1, tickColor: '#fff' }, border: { display: false }
      }
    }
  }
});
addText('Estimated Proportion', 1858, 912, { size: 19.5, rot: -90 });

// ---- Panels E, F, G
function violinPanel(p) {
  const half = 26 / (p.plot.r - p.plot.l) * 2.2;
  const high = p.highX.map((x, i) => ({ x: 1 + x, y: p.highY[i] }));
  const low = p.lowX.map((x, i) => ({ x: 2 + x, y: p.lowY[i] }));
  addChart(p.plot, { l: p.left, t: 0, r: 0, b: 23 }, {
    type: 'scatter',
    data: { datasets: [
      lineSet([{ x: 1, y: p.bracketLow }, { x: 1, y: p.bracket }, { x: 2, y: p.bracket }, { x: 2, y: p.bracketLow }], '#333', 1.5, 1),
      lineSet(medianPoints(groupTicks, p.med, half), '#3a3a3a', 4, 2),
      boxSet(groupTicks, p.q1, p.q3, [NPG_RED, NPG_BLUE], '#222', 2.5, 52, 3),
      lineSet(whiskerPoints(groupTicks, p.q1, p.q3, p.lo, p.hi), '#222', 2, 4),
      dotSet(high, 'rgba(70,70,70,.36)', 5, 5),
      dotSet(low, 'rgba(70,70,70,.36)', 5, 5),
      lineSet(violinPoints(1, p.vHighY, p.vHighW), '#333', 2, 6, { tension: .25 }),
      lineSet(violinPoints(2, p.vLowY, p.vLowW), '#333', 2, 6, { tension: .25 })
    ] },
    options: {
      scales: {
        x: {
          type: 'linear', offset: false, min: .405, max: 2.6, afterBuildTicks: useTicks(groupTicks),
          ticks: { font: { size: 16 }, color: '#111', padding: 2, autoSkip: false, callback: v => groupLabels[v - 1] },
          grid: { offset: false, color: '#eeeeee', lineWidth: 2, tickLength: 5, tickColor: '#222' }, border: { display: false }
        },
        y: {
          min: p.min, max: p.max, afterBuildTicks: useTicks(p.grid),
          ticks: { font: { size: 16 }, color: '#111', padding: 3, autoSkip: false, callback: v => p.labelled.includes(v) ? String(v) : '' },
          grid: {
            color: '#eeeeee', lineWidth: c => p.labelled.includes(c.tick.value) ? 3 : 2, tickLength: 5,
            tickColor: c => p.labelled.includes(c.tick.value) ? '#222' : 'rgba(0,0,0,0)'
          },
          border: { display: false },
          title: { display: true, text: p.name, font: { size: 18 }, padding: 0 }
        }
      },
      plugins: { notes: { frame: 2, items: [{ text: '****', x: 1.5, y: p.stars, font: 'bold 15px ' + SERIF }] } }
    }
  });
  addText(p.letter, p.letterX, 1484, { size: 25, bold: true });
  addText(p.title, p.plot.l, 1484, { family: SANS, size: 22 });
  addText('Group', p.keyX - 3, 1524, { size: 19 });
  addKey(p.keyX, 1555.5, 23, 17, NPG_RED, '#222', 2, '#222');
  addKey(p.keyX, 1585, 23, 17, NPG_BLUE, '#222', 2, '#222');
  addText('High', p.keyX + 35, 1556, { size: 15.5 });
  addText('Low', p.keyX + 35, 1585, { size: 15.5 });
}
violinPanel({
  letter: 'E', letterX: 2, title: 'wilcox.tests p=1.5e\u221231', name: 'StromalScore', plot: { l: 63, r: 642, t: 1505, b: 2029 }, left: 62, keyX: 566,
  min: -1163, max: 6755, grid: [-1000,0,1000,2000,3000,4000,5000,6000], labelled: [0,2000,4000,6000],
  bracket: 6382, bracketLow: 6171, stars: 6620,
  q1: stromalBoxQ1, med: stromalBoxMedian, q3: stromalBoxQ3, lo: stromalWhiskerLow, hi: stromalWhiskerHigh,
  highX: stromalHighJitter, highY: stromalHighScore, lowX: stromalLowJitter, lowY: stromalLowScore,
  vHighY: stromalHighViolinY, vHighW: stromalHighViolinW, vLowY: stromalLowViolinY, vLowW: stromalLowViolinW
});
violinPanel({
  letter: 'F', letterX: 659, title: 'wilcox.tests p=2.6e\u221210', name: 'ImmuneScore', plot: { l: 722, r: 1302, t: 1505, b: 2029 }, left: 62, keyX: 1226,
  min: 947, max: 8505, grid: [1000,2000,3000,4000,5000,6000,7000,8000], labelled: [2000,4000,6000,8000],
  bracket: 8158, bracketLow: 7957, stars: 8376,
  q1: immuneBoxQ1, med: immuneBoxMedian, q3: immuneBoxQ3, lo: immuneWhiskerLow, hi: immuneWhiskerHigh,
  highX: immuneHighJitter, highY: immuneHighScore, lowX: immuneLowJitter, lowY: immuneLowScore,
  vHighY: immuneHighViolinY, vHighW: immuneHighViolinW, vLowY: immuneLowViolinY, vLowW: immuneLowViolinW
});
violinPanel({
  letter: 'G', letterX: 1320, title: 'wilcox.tests p=2.2e\u221223', name: 'ESTIMATEScore', plot: { l: 1389, r: 1961, t: 1505, b: 2029 }, left: 70, keyX: 1885,
  min: 72, max: 14467, grid: [2500,5000,7500,10000,12500], labelled: [5000,10000],
  bracket: 13807, bracketLow: 13423, stars: 14222,
  q1: estimateBoxQ1, med: estimateBoxMedian, q3: estimateBoxQ3, lo: estimateWhiskerLow, hi: estimateWhiskerHigh,
  highX: estimateHighJitter, highY: estimateHighScore, lowX: estimateLowJitter, lowY: estimateLowScore,
  vHighY: estimateHighViolinY, vHighW: estimateHighViolinW, vLowY: estimateLowViolinY, vLowW: estimateLowViolinW
});

// panel letters
addText('A', 3, 15, { size: 25, bold: true });
addText('C', 993, 17, { size: 25, bold: true });
addText('B', 3, 748, { size: 25, bold: true });
addText('D', 993, 748, { size: 25, bold: true });
</script>
</body>
</html>
